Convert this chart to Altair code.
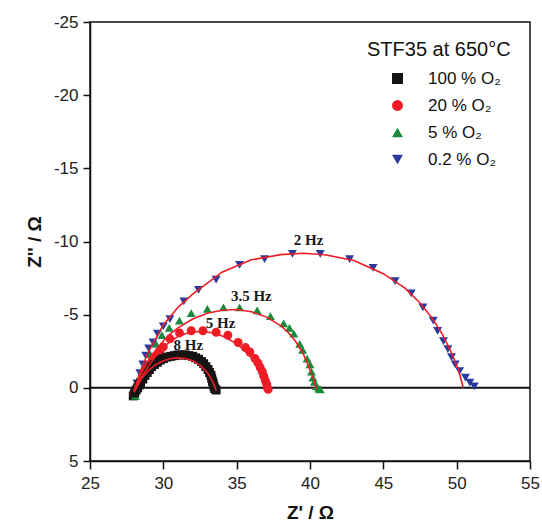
import altair as alt
import pandas as pd

# ---------------- data ----------------
series = ["100 % O₂", "20 % O₂", "5 % O₂", "0.2 % O₂"]
colors = ["#141414", "#ee1d25", "#178a3c", "#283a9c"]
shapes = ["square", "circle", "triangle-up", "triangle-down"]

# measured points (Z' , Z'')
x100 = [27.95, 28.05, 28.15, 28.25, 28.35, 28.45, 28.6, 28.75, 28.9, 29.05, 29.2, 29.4, 29.6,
        29.8, 30.0, 30.25, 30.5, 30.75, 31.0, 31.25, 31.5, 31.75, 32.0, 32.2, 32.4, 32.6,
        32.75, 32.9, 33.05, 33.15, 33.25, 33.3, 33.35, 33.4, 33.45, 33.5, 33.6]
y100 = [0.55, 0.35, 0.15, 0.0, -0.2, -0.35, -0.6, -0.85, -1.05, -1.25, -1.45, -1.6, -1.75,
        -1.9, -2.0, -2.1, -2.15, -2.2, -2.25, -2.25, -2.25, -2.2, -2.15, -2.05, -1.95, -1.8,
        -1.65, -1.45, -1.25, -1.05, -0.85, -0.65, -0.45, -0.3, -0.1, 0.05, 0.15]

x20 = [28.0, 28.2, 28.4, 28.6, 28.8, 29.0, 29.25, 29.5, 29.75, 30.0, 30.45, 31.1, 31.9, 32.7,
       33.6, 34.4, 35.1, 35.6, 35.9, 36.25, 36.45, 36.6, 36.75, 36.85, 36.95, 37.05, 37.1, 37.15]
y20 = [0.4, 0.0, -0.4, -0.8, -1.15, -1.5, -1.9, -2.2, -2.5, -2.8, -3.35, -3.75, -3.9, -3.9,
       -3.8, -3.6, -3.1, -2.75, -2.45, -2.0, -1.7, -1.4, -1.1, -0.8, -0.5, -0.25, 0.0, 0.1]

x5 = [28.1, 28.3, 28.5, 28.8, 29.1, 29.5, 29.9, 30.4, 31.1, 31.9, 33.0, 34.1, 35.2, 36.4,
      37.3, 38.2, 38.6, 38.9, 39.3, 39.5, 39.8, 40.0, 40.1, 40.2, 40.3, 40.45, 40.6, 40.7]
y5 = [0.55, -0.2, -0.9, -1.6, -2.3, -3.0, -3.6, -4.1, -4.6, -5.1, -5.4, -5.5, -5.5, -5.3,
      -4.9, -4.4, -4.1, -3.7, -3.0, -2.6, -2.0, -1.6, -1.1, -0.7, -0.4, -0.1, 0.05, 0.1]

x02 = [28.0, 28.2, 28.4, 28.6, 28.8, 29.0, 29.3, 29.6, 30.0, 30.45, 31.4, 32.4, 33.6, 35.2,
       36.9, 38.8, 40.7, 42.7, 44.3, 45.8, 46.9, 47.7, 48.4, 48.7, 49.1, 49.4, 49.65, 49.9,
       50.2, 50.6, 50.9, 51.2]
y02 = [0.4, -0.3, -1.0, -1.6, -2.2, -2.7, -3.1, -3.7, -4.2, -4.7, -5.9, -6.7, -7.4, -8.4,
       -8.8, -9.15, -9.15, -8.8, -8.2, -7.3, -6.45, -5.5, -4.6, -3.9, -3.2, -2.65, -2.1, -1.6,
       -1.15, -0.7, -0.35, -0.1]

# fitted curves (red lines)
fx100 = [28.0, 28.5, 29.0, 29.5, 30.0, 30.5, 31.0, 31.5, 32.0, 32.5, 33.0, 33.3, 33.5, 33.6]
fy100 = [0.3, -0.6, -1.2, -1.6, -1.85, -2.0, -2.05, -2.0, -1.85, -1.55, -1.05, -0.55, -0.1, 0.2]

fx20 = [28.0, 28.5, 29.0, 29.5, 30.0, 30.5, 31.0, 31.5, 32.0, 32.5, 33.0, 33.5, 34.0, 34.5,
        35.0, 35.5, 36.0, 36.4, 36.7, 36.9, 37.1]
fy20 = [0.3, -0.7, -1.5, -2.2, -2.75, -3.2, -3.5, -3.7, -3.82, -3.85, -3.82, -3.72, -3.55, -3.3,
        -3.0, -2.6, -2.05, -1.5, -0.95, -0.5, 0.1]

fx5 = [28.0, 28.5, 29.0, 29.5, 30.0, 30.5, 31.0, 32.0, 33.0, 34.0, 35.0, 36.0, 37.0, 38.0,
       38.5, 39.0, 39.5, 39.9, 40.2, 40.45]
fy5 = [0.2, -1.0, -1.9, -2.6, -3.2, -3.7, -4.1, -4.7, -5.1, -5.3, -5.35, -5.2, -4.85, -4.25,
       -3.8, -3.2, -2.4, -1.5, -0.7, 0.1]

fx02 = [28.0, 28.5, 29.0, 30.0, 31.0, 32.0, 34.0, 36.0, 38.0, 39.5, 41.0, 43.0, 45.0, 46.5,
        47.5, 48.3, 49.0, 49.6, 50.1, 50.45]
fy02 = [0.2, -1.3, -2.5, -4.3, -5.5, -6.4, -7.9, -8.75, -9.1, -9.2, -9.1, -8.7, -7.8, -6.8,
        -5.8, -4.8, -3.7, -2.5, -1.3, 0.0]

freq_text = ["8 Hz", "5 Hz", "3.5 Hz", "2 Hz"]
freq_x = [31.7, 33.9, 36.0, 39.9]
freq_y = [-2.9, -4.4, -6.3, -10.1]

x_ticks = [25, 27.5, 30, 32.5, 35, 37.5, 40, 42.5, 45, 47.5, 50, 52.5, 55]
y_ticks = [-25, -22.5, -20, -17.5, -15, -12.5, -10, -7.5, -5, -2.5, 0, 2.5, 5]

# ---------------- tables ----------------
pts = []
for name, xs, ys in zip(series, [x100, x20, x5, x02], [y100, y20, y5, y02]):
    for i, (a, b) in enumerate(zip(xs, ys)):
        pts.append({"series": name, "zr": a, "zi": b, "i": i})
pts = pd.DataFrame(pts)

fits = []
for name, xs, ys in zip(series, [fx100, fx20, fx5, fx02], [fy100, fy20, fy5, fy02]):
    for i, (a, b) in enumerate(zip(xs, ys)):
        fits.append({"series": name, "zr": a, "zi": b, "i": i})
fits = pd.DataFrame(fits)

freq = pd.DataFrame({"t": freq_text, "zr": freq_x, "zi": freq_y})

# ---------------- scales / axes ----------------
xscale = alt.Scale(domain=[25, 55], nice=False, zero=False)
yscale = alt.Scale(domain=[-25, 5], nice=False, zero=False, reverse=True)

major = "datum.value % 5 === 0"
xaxis = alt.Axis(values=x_ticks, title="Z' / Ω", labelExpr=f"{major} ? toString(datum.value) : ''",
                 tickSize={"condition": {"test": major, "value": 8}, "value": 4},
                 labelFlush=False, labelPadding=6, titlePadding=12)
yaxis = alt.Axis(values=y_ticks, title="Z'' / Ω", labelExpr=f"{major} ? toString(datum.value) : ''",
                 tickSize={"condition": {"test": major, "value": 7}, "value": 4},
                 labelPadding=5, titlePadding=9)

X = alt.X("zr:Q", scale=xscale, axis=xaxis)
Y = alt.Y("zi:Q", scale=yscale, axis=yaxis)

zero_line = alt.Chart(pd.DataFrame({"zi": [0]})).mark_rule(color="#111", strokeWidth=2).encode(
    y=alt.Y("zi:Q", scale=yscale)
)

legend = alt.Legend(title="STF35 at 650°C")

points = alt.Chart(pts).mark_point(filled=True, size=80, opacity=1, strokeWidth=0).encode(
    x=X, y=Y,
    color=alt.Color("series:N", scale=alt.Scale(domain=series, range=colors), legend=legend),
    shape=alt.Shape("series:N", scale=alt.Scale(domain=series, range=shapes), legend=legend),
    order=alt.Order("i:Q"),
)

lines = alt.Chart(fits).mark_line(color="#ee1d25", strokeWidth=1.6).encode(
    x=alt.X("zr:Q", scale=xscale), y=alt.Y("zi:Q", scale=yscale),
    detail="series:N", order="i:Q",
)

labels = alt.Chart(freq).mark_text(font="Liberation Serif", fontWeight="bold", fontSize=15,
                                   color="#1a1a1a").encode(
    x=alt.X("zr:Q", scale=xscale), y=alt.Y("zi:Q", scale=yscale), text="t:N"
)

chart = alt.layer(zero_line, points, lines, labels).properties(
    width=440, height=439,
    autosize=alt.AutoSizeParams(type="none"),
    padding={"left": 90, "top": 22, "right": 12, "bottom": 65},
).configure_view(
    stroke="#111", strokeWidth=1.5
).configure_axis(
    domainColor="#111", domainWidth=1.5, tickColor="#111", tickWidth=1.5, grid=False,
    labelFont="Liberation Sans", labelFontSize=17, labelColor="#222",
    titleFont="Liberation Sans", titleFontSize=19, titleFontWeight="bold", titleColor="#111",
).configure_legend(
    orient="none", legendX=277, legendY=18, padding=0,
    titleFont="Liberation Sans", titleFontSize=20, titleFontWeight="normal", titleColor="#111",
    titlePadding=10,
    labelFont="Liberation Sans", labelFontSize=17, labelColor="#111", labelOffset=22,
    symbolSize=120, symbolStrokeWidth=0, symbolOffset=22, rowPadding=9,
)

chart.save("out.html", embed_options={"renderer": "svg", "actions": False})
